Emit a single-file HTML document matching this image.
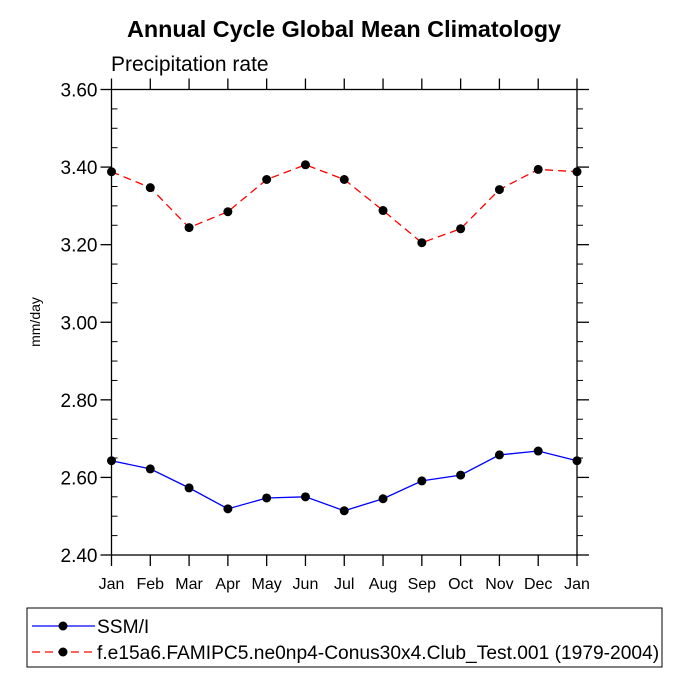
<!DOCTYPE html>
<html><head><meta charset="utf-8"><style>
body{margin:0;background:#fff;}
svg{display:block;font-family:"Liberation Sans",sans-serif;}
</style></head><body>
<svg id="c" width="689" height="689" xmlns="http://www.w3.org/2000/svg">
<text x="344" y="37" text-anchor="middle" font-size="23.4" font-weight="bold">Annual Cycle Global Mean Climatology</text>
<text x="111" y="71" font-size="21">Precipitation rate</text>
<text transform="translate(40,322) rotate(-90)" text-anchor="middle" font-size="14">mm/day</text>
<g id="axes"></g>
<g id="series"></g>
<rect x="27" y="608" width="635" height="59" fill="none" stroke="#000" stroke-width="1"/>
<g>
<line x1="32" y1="626" x2="95" y2="626" stroke="#0000ff" stroke-width="1.2"/>
<circle cx="63" cy="626" r="4.5" fill="#000"/>
<text x="97" y="633" font-size="19.2">SSM/I</text>
</g>
<g>
<line x1="32" y1="652" x2="95" y2="652" stroke="#ff0000" stroke-width="1.2" stroke-dasharray="8,5"/>
<circle cx="63" cy="652" r="4.5" fill="#000"/>
<text x="97" y="659" font-size="19.2">f.e15a6.FAMIPC5.ne0np4-Conus30x4.Club_Test.001 (1979-2004)</text>
</g>
</svg>
<script>
const months=["Jan","Feb","Mar","Apr","May","Jun","Jul","Aug","Sep","Oct","Nov","Dec","Jan"];
const yTicks=[2.4,2.6,2.8,3.0,3.2,3.4,3.6];
const yTickLabels=["2.40","2.60","2.80","3.00","3.20","3.40","3.60"];
const ssmi=[2.643,2.622,2.573,2.519,2.547,2.550,2.514,2.545,2.591,2.606,2.658,2.668,2.643];
const model=[3.388,3.347,3.244,3.285,3.368,3.406,3.368,3.288,3.205,3.241,3.342,3.394,3.388];
const L=111.5,R=577,T=89.5,B=555,ymin=2.4,ymax=3.6;
const xs=i=>L+(R-L)*i/(months.length-1);
const ys=v=>B-(v-ymin)/(ymax-ymin)*(B-T);
const NS="http://www.w3.org/2000/svg";
function mk(t,a,p){const e=document.createElementNS(NS,t);for(const k in a)e.setAttribute(k,a[k]);p.appendChild(e);return e;}
const ax=document.getElementById('axes');
const frame=mk('rect',{x:L,y:T,width:R-L,height:B-T,fill:'none',stroke:'#000','stroke-width':1.3},ax);


months.forEach((m,i)=>{const x=xs(i);
mk('line',{x1:x,y1:B,x2:x,y2:B+11,stroke:'#000','stroke-width':1.3},ax);
mk('line',{x1:x,y1:T,x2:x,y2:T-11,stroke:'#000','stroke-width':1.3},ax);
const t=mk('text',{x:x,y:B+34,'text-anchor':'middle','font-size':16},ax);t.textContent=m;

});
yTicks.forEach((v,i)=>{const y=ys(v);
mk('line',{x1:L-11,y1:y,x2:L,y2:y,stroke:'#000','stroke-width':1.3},ax);
mk('line',{x1:R,y1:y,x2:R+12,y2:y,stroke:'#000','stroke-width':1.3},ax);
const t=mk('text',{x:L-14,y:y+7,'text-anchor':'end','font-size':19},ax);t.textContent=yTickLabels[i];


if(i<yTicks.length-1){for(let k=1;k<4;k++){const ym=ys(v+0.05*k);
mk('line',{x1:L,y1:ym,x2:L+6,y2:ym,stroke:'#000','stroke-width':1},ax);
mk('line',{x1:R,y1:ym,x2:R+6,y2:ym,stroke:'#000','stroke-width':1},ax);}}});
const sg=document.getElementById('series');
function series(data,color,dash,name){
const pl=mk('polyline',{points:data.map((v,i)=>xs(i)+','+ys(v)).join(' '),fill:'none',stroke:color,'stroke-width':1.3,'stroke-dasharray':dash},sg);


data.forEach((v,i)=>{const c=mk('circle',{cx:xs(i),cy:ys(v),r:4.5,fill:'#000'},sg);

});}
series(ssmi,'#0000ff','none','ssmi');
series(model,'#ff0000','8,5','model');
</script>
</body></html>
